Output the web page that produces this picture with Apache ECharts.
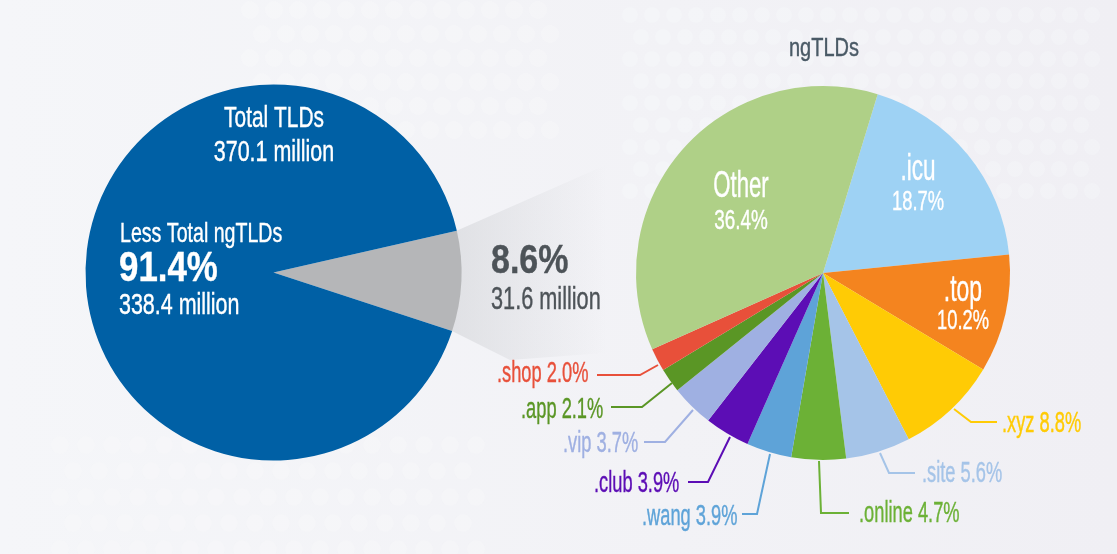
<!DOCTYPE html>
<html>
<head>
<meta charset="utf-8">
<style>
  html, body { margin: 0; padding: 0; background: #f2f2f6; }
  #chart { width: 1117px; height: 554px; }
</style>
<script src="https://cdn.jsdelivr.net/npm/echarts@6/dist/echarts.min.js"></script>
</head>
<body>
<div id="chart"></div>
<script>
const totalNames = ['ngTLDs', 'Less Total ngTLDs']
const totalValues = [8.6, 91.4]
const totalMillions = [31.6, 338.4]
const totalColors = ['#b5b6b8', '#0060a5']

const tldNames = ['.icu', '.top', '.xyz', '.site', '.online', '.wang', '.club', '.vip', '.app', '.shop', 'Other']
const tldValues = [18.7, 10.2, 8.8, 5.6, 4.7, 3.9, 3.9, 3.7, 2.1, 2.0, 36.4]
const tldColors = ['#9ed2f4', '#f4841f', '#ffcb05', '#a5c4e8', '#6cb136', '#5ea3d8', '#5c0db5', '#9fb0e2', '#5a9625', '#e8503a', '#afd087']

// no condensed face is installed, so the text is squeezed horizontally
const font = '"Liberation Sans", sans-serif'

// label left, label y, then the leader line from the slice edge to the label
const outerLabels = {
  '.xyz': [1002, 422, [[954, 409], [971, 422], [997, 422]]],
  '.site': [922, 472, [[880, 453], [889, 473], [915, 473]]],
  '.online': [859, 512, [[819, 461], [821, 513], [849, 513]]],
  '.wang': [642, 515, [[770, 454], [757, 514], [742, 514]]],
  '.club': [594, 482, [[730, 437], [708, 482], [688, 482]]],
  '.vip': [563, 442, [[693, 410], [665, 442], [644, 442]]],
  '.app': [521, 408, [[672, 383], [642, 407], [611, 407]]],
  '.shop': [497, 372, [[658, 365], [640, 375], [597, 375]]]
}
// centre x, name y, value y, name squeeze, value squeeze
const innerLabels = {
  '.icu': [918, 168, 201, 0.61, 0.68],
  '.top': [963, 289, 320, 0.62, 0.68],
  'Other': [741, 185, 220, 0.6, 0.7]
}

const text = (x, y, str, fontSize, scaleX, color, align, fontWeight) => ({
  type: 'text',
  z: 10,
  silent: true,
  x,
  y: y + 2,
  scaleX,
  style: {
    text: str,
    fontSize,
    fill: color,
    stroke: color,
    lineWidth: 0.4,
    align: align || 'left',
    verticalAlign: 'middle',
    fontFamily: font,
    fontWeight: fontWeight || 'normal'
  }
})

// soft dots in the page background
const dotField = (x0, x1, y0, y1, step, r, opacity) => {
  const dots = []
  let row = 0
  for (let y = y0; y < y1; y += step) {
    for (let x = x0 + (row % 2) * step / 2; x < x1; x += step) {
      dots.push({
        type: 'circle',
        z: -10,
        silent: true,
        shape: { cx: x, cy: y, r },
        style: { fill: '#fbfdfd', opacity }
      })
    }
    row++
  }
  return dots
}

const tldLabels = []
tldNames.forEach((name, i) => {
  const value = tldValues[i].toFixed(1) + '%'
  const outer = outerLabels[name]
  if (outer) {
    tldLabels.push(text(outer[0], outer[1], name + ' ' + value, 29, 0.63, tldColors[i]))
    tldLabels.push({
      type: 'polyline',
      z: 9,
      silent: true,
      shape: { points: outer[2] },
      style: { stroke: tldColors[i], lineWidth: 2, fill: 'none' }
    })
  } else {
    const inner = innerLabels[name]
    tldLabels.push(text(inner[0], inner[1], name, 37, inner[3], '#fff', 'center'))
    tldLabels.push(text(inner[0], inner[2], value, 27, inner[4], '#fff', 'center'))
  }
})

const chart = echarts.init(document.getElementById('chart'))

chart.setOption({
  animation: false,
  backgroundColor: {
    type: 'linear', x: 0, y: 0, x2: 1, y2: 0,
    colorStops: [
      { offset: 0, color: '#f5f6f9' },
      { offset: 0.6, color: '#f2f2f6' },
      { offset: 1, color: '#f0eff4' }
    ]
  },
  graphic: [
    ...dotField(250, 560, 10, 140, 24, 9, 0.28),
    ...dotField(60, 480, 445, 554, 26, 9, 0.25),
    ...dotField(630, 1100, 15, 210, 22, 8, 0.22),
    {
      type: 'polygon',
      z: -5,
      silent: true,
      shape: { points: [[456, 231], [640, 150], [645, 350], [510, 360], [452, 331]] },
      style: {
        fill: {
          type: 'linear', x: 0, y: 0, x2: 1, y2: 0,
          colorStops: [
            { offset: 0, color: 'rgba(190,192,196,0.36)' },
            { offset: 0.8, color: 'rgba(190,192,196,0)' }
          ]
        }
      }
    },
    text(274, 117, 'Total TLDs', 29, 0.72, '#fff', 'center'),
    text(274, 151, '370.1 million', 29, 0.74, '#fff', 'center'),
    text(120, 232, totalNames[1], 28, 0.7, '#fff'),
    text(119, 267, totalValues[1] + '%', 42, 0.83, '#fff', 'left', 'bold'),
    text(119, 304, totalMillions[1] + ' million', 29, 0.74, '#fff'),
    text(491, 260, totalValues[0] + '%', 40, 0.85, '#4d5358', 'left', 'bold'),
    text(491, 298, totalMillions[0] + ' million', 31, 0.7, '#4d5358'),
    text(824, 47, 'ngTLDs', 25, 0.8, '#4a5a66', 'center'),
    ...tldLabels
  ],
  series: [
    {
      name: 'Total TLDs',
      type: 'pie',
      center: [273.5, 272.5],
      radius: [0, 188],
      startAngle: 12.8,
      silent: true,
      label: { show: false },
      labelLine: { show: false },
      data: totalNames.map((name, i) => ({
        name,
        value: totalValues[i],
        itemStyle: { color: totalColors[i] }
      }))
    },
    {
      name: 'ngTLDs',
      type: 'pie',
      center: [823, 273],
      radius: [0, 187],
      startAngle: 73,
      silent: true,
      label: { show: false },
      labelLine: { show: false },
      data: tldNames.map((name, i) => ({
        name,
        value: tldValues[i],
        itemStyle: { color: tldColors[i] }
      }))
    }
  ]
})
</script>
</body>
</html>
